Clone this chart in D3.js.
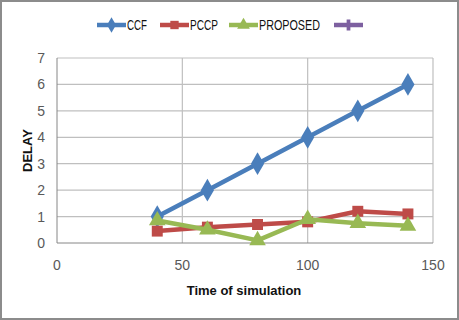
<!DOCTYPE html>
<html>
<head>
<meta charset="utf-8">
<script src="https://cdn.jsdelivr.net/npm/d3@7"></script>
<style>
  body { margin: 0; background: #fff; }
  text { font-family: "Liberation Sans Narrow", "Liberation Sans", Arial, sans-serif; }
</style>
</head>
<body>
<div id="chart"></div>
<script>
// Data
const times = [40, 60, 80, 100, 120, 140]
const ccf = [1, 2, 3, 4, 5, 6]
const pccp = [0.45, 0.6, 0.7, 0.8, 1.2, 1.1]
const proposed = [0.85, 0.5, 0.1, 0.9, 0.75, 0.65]
const seriesNames = ['CCF', 'PCCP', 'PROPOSED', '']
const xTicks = [0, 50, 100, 150]
const yTicks = [0, 1, 2, 3, 4, 5, 6, 7]

const series = [
  { name: seriesNames[0], values: ccf, color: '#4a7ebb', symbol: d3.symbolDiamond },
  { name: seriesNames[1], values: pccp, color: '#be4b48', symbol: d3.symbolSquare },
  { name: seriesNames[2], values: proposed, color: '#98b954', symbol: d3.symbolTriangle },
  { name: seriesNames[3], values: [], color: '#7d60a0', symbol: d3.symbolCross },
]

// Dimensions
let dimensions = { width: 459, height: 320 }
let plot = { left: 57, right: 433, top: 58, bottom: 243 }

const svg = d3.select('#chart')
  .append('svg')
  .attr('width', dimensions.width)
  .attr('height', dimensions.height)

// frame
svg.append('rect')
  .attr('x', 1).attr('y', 1)
  .attr('width', dimensions.width - 2).attr('height', dimensions.height - 2)
  .attr('fill', '#fff').attr('stroke', '#8c8c8c').attr('stroke-width', 2)

// scales
const x = d3.scaleLinear().domain([0, 150]).range([plot.left, plot.right])
const y = d3.scaleLinear().domain([0, 7]).range([plot.bottom, plot.top])

// grid
svg.append('g')
  .selectAll('line')
  .data(yTicks.slice(1))
  .join('line')
  .attr('x1', plot.left).attr('x2', plot.right)
  .attr('y1', d => y(d)).attr('y2', d => y(d))
  .attr('stroke', '#bfbfbf').attr('stroke-width', 1.2)

svg.append('g')
  .selectAll('line')
  .data(xTicks.slice(1))
  .join('line')
  .attr('x1', d => x(d)).attr('x2', d => x(d))
  .attr('y1', plot.top).attr('y2', plot.bottom)
  .attr('stroke', '#bfbfbf').attr('stroke-width', 1.2)

// axes lines
svg.append('line')
  .attr('x1', plot.left).attr('x2', plot.left)
  .attr('y1', plot.top).attr('y2', plot.bottom)
  .attr('stroke', '#868686')
svg.append('line')
  .attr('x1', plot.left).attr('x2', plot.right)
  .attr('y1', plot.bottom).attr('y2', plot.bottom)
  .attr('stroke', '#868686')

// tick labels
svg.append('g')
  .selectAll('text')
  .data(yTicks)
  .join('text')
  .attr('x', 45).attr('y', d => y(d) + 5)
  .attr('text-anchor', 'end')
  .attr('font-size', 14).attr('fill', '#595959')
  .text(d => d)

svg.append('g')
  .selectAll('text')
  .data(xTicks)
  .join('text')
  .attr('x', d => x(d)).attr('y', 270)
  .attr('text-anchor', 'middle')
  .attr('font-size', 14).attr('fill', '#595959')
  .text(d => d)

// axis titles
svg.append('text')
  .attr('transform', `translate(32, ${(plot.top + plot.bottom) / 2}) rotate(-90)`)
  .attr('text-anchor', 'middle')
  .attr('font-size', 13).attr('font-weight', 'bold').attr('fill', '#111')
  .text('DELAY')

svg.append('text')
  .attr('x', 244).attr('y', 295)
  .attr('text-anchor', 'middle')
  .attr('font-size', 13).attr('font-weight', 'bold').attr('fill', '#111')
  .text('Time of simulation')

// lines
const line = d3.line()
  .x((d, i) => x(times[i]))
  .y(d => y(d))

series.forEach(s => {
  const g = svg.append('g')
  g.append('path')
    .datum(s.values)
    .attr('d', line)
    .attr('fill', 'none')
    .attr('stroke', s.color)
    .attr('stroke-width', 4.5)
    .attr('stroke-linejoin', 'round')
  g.selectAll('path.m')
    .data(s.values)
    .join('path')
    .attr('class', 'm')
    .attr('transform', (d, i) => `translate(${x(times[i])}, ${y(d)})`)
    .attr('d', d3.symbol().type(s.symbol).size(s.symbol === d3.symbolDiamond ? 150 : 120))
    .attr('fill', s.color)
})

// legend
const legendX = [97, 160, 229, 334]
const legendW = [20, 28, 61, 0]
const legend = svg.append('g')
  .selectAll('g')
  .data(series)
  .join('g')
  .attr('transform', (d, i) => `translate(${legendX[i]}, 25)`)

legend.append('line')
  .attr('x1', 0).attr('x2', 29)
  .attr('stroke', d => d.color).attr('stroke-width', 4.5)
legend.append('path')
  .attr('transform', 'translate(14.5, 0)')
  .attr('d', d => d3.symbol().type(d.symbol).size(70)())
  .attr('fill', d => d.color)
legend.filter(d => d.name !== '')
  .append('text')
  .attr('x', 30).attr('y', 5)
  .attr('font-size', 14).attr('fill', '#111')
  .attr('textLength', (d, i) => legendW[i])
  .attr('lengthAdjust', 'spacingAndGlyphs')
  .text(d => d.name)
</script>
</body>
</html>
